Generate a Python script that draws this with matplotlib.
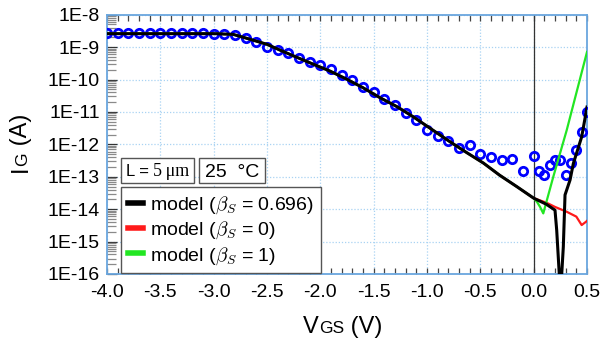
import numpy as np
import matplotlib
matplotlib.use("Agg")
import matplotlib.pyplot as plt
from matplotlib.lines import Line2D
from matplotlib.patches import Rectangle
from matplotlib.ticker import FixedLocator, MultipleLocator, FuncFormatter, NullFormatter, LogLocator

plt.rcParams['font.family'] = ['Liberation Sans', 'DejaVu Sans']
plt.rcParams['mathtext.fontset'] = 'cm'

# ---------------- data ----------------
meas_vgs = [-4.0, -3.9, -3.8, -3.7, -3.6, -3.5, -3.4, -3.3, -3.2, -3.1,
            -3.0, -2.9, -2.8, -2.7, -2.6, -2.5, -2.4, -2.3, -2.2, -2.1,
            -2.0, -1.9, -1.8, -1.7, -1.6, -1.5, -1.4, -1.3, -1.2, -1.1,
            -1.0, -0.9, -0.8, -0.7, -0.6, -0.5, -0.4, -0.3, -0.2, -0.1,
            0.0, 0.05, 0.1, 0.15, 0.2, 0.25, 0.3, 0.35, 0.4, 0.45, 0.5]
meas_log_ig = [-8.57, -8.57, -8.57, -8.57, -8.57, -8.57, -8.57, -8.57, -8.57, -8.57,
               -8.59, -8.61, -8.64, -8.71, -8.85, -8.99, -9.09, -9.19, -9.34, -9.47,
               -9.56, -9.69, -9.86, -10.02, -10.22, -10.38, -10.60, -10.79, -11.02, -11.26,
               -11.56, -11.74, -11.91, -12.11, -12.02, -12.30, -12.38, -12.49, -12.46, -12.83,
               -12.35, -12.82, -12.95, -12.64, -12.47, -12.49, -12.94, -12.58, -12.16, -11.62, -11.01]

# model curves: common part (all three coincide for VGS <= 0)
model_common_v = [-4.0, -3.0, -2.82, -2.69, -2.5, -2.38, -2.22, -2.07, -1.91, -1.75, -1.6,
                  -1.44, -1.28, -1.13, -0.97, -0.78, -0.63, -0.47, -0.32, -0.16, 0.0]
model_common_log = [-8.586, -8.586, -8.605, -8.728, -8.914, -9.09, -9.315, -9.522, -9.738, -9.994, -10.253,
                    -10.562, -10.84, -11.148, -11.506, -11.93, -12.25, -12.58, -12.95, -13.3, -13.66]

# tails for VGS > 0
black_tail_v = [0.12, 0.2, 0.216, 0.24, 0.252, 0.263, 0.278, 0.294, 0.341, 0.372, 0.45, 0.49, 0.5]
black_tail_log = [-13.85, -14.03, -14.65, -16.0, -16.6, -16.0, -15.16, -13.56, -13.1, -12.59, -11.77, -11.04, -10.85]
red_tail_v = [0.12, 0.2, 0.31, 0.40, 0.45, 0.49, 0.5]
red_tail_log = [-13.8, -13.93, -14.08, -14.23, -14.49, -14.39, -14.36]
green_tail_v = [0.03, 0.06, 0.09, 0.184, 0.31, 0.5]
green_tail_log = [-13.77, -13.93, -14.13, -13.0, -11.56, -9.15]

legend_labels = [r"model ($\beta_S$ = 0.696)", r"model ($\beta_S$ = 0)", r"model ($\beta_S$ = 1)"]
x_ticks = [-4.0, -3.5, -3.0, -2.5, -2.0, -1.5, -1.0, -0.5, 0.0, 0.5]
y_decades = [-16, -15, -14, -13, -12, -11, -10, -9, -8]

# ---------------- figure ----------------
W, H = 602, 350
fig = plt.figure(figsize=(W / 100, H / 100), dpi=100)
ax = fig.add_axes([107 / W, 1 - 274 / H, 480 / W, (274 - 14.7) / H])

def fx(x):
    return x / W

def fy(y):
    return 1 - y / H

blue_spine = '#6aa6de'
grid_col = '#a9d3f3'

ax.set_yscale('log')
ax.set_xlim(-4.0, 0.5)
ax.set_ylim(1e-16, 1e-8)

ax.plot(meas_vgs, 10 ** np.array(meas_log_ig), 'o', ms=6.0, mfc='none', mec='#0000ff',
        mew=2.0, zorder=3)

red_v = model_common_v + red_tail_v
red_l = model_common_log + red_tail_log
green_v = model_common_v + green_tail_v
green_l = model_common_log + green_tail_log
black_v = model_common_v + black_tail_v
black_l = model_common_log + black_tail_log
ax.plot(red_v, 10 ** np.array(red_l), color='#ff1a1a', lw=1.6, zorder=4)
ax.plot(green_v, 10 ** np.array(green_l), color='#22e622', lw=1.6, zorder=4)
ax.plot(black_v, 10 ** np.array(black_l), color='black', lw=2.2, zorder=5)

ax.axvline(0.0, color='#333333', lw=0.9, zorder=2)

# ticks
ax.xaxis.set_major_locator(FixedLocator(x_ticks))
ax.xaxis.set_minor_locator(MultipleLocator(0.1))
ax.xaxis.set_major_formatter(FuncFormatter(lambda v, p: f"{v + 0.0:.1f}"))
ax.yaxis.set_major_locator(FixedLocator([10.0 ** d for d in y_decades]))
ax.yaxis.set_minor_locator(LogLocator(base=10, subs=np.arange(2, 10), numticks=20))
ax.yaxis.set_major_formatter(FuncFormatter(lambda v, p: f"1E{int(round(np.log10(v)))}"))
ax.yaxis.set_minor_formatter(NullFormatter())

ax.tick_params(axis='x', which='both', direction='in', top=True, bottom=True,
               length=4.3, width=0.9, color='#444444', labelsize=14, pad=7)
ax.tick_params(axis='y', which='major', direction='in', left=True, right=False,
               length=7, width=0.9, color='#333333', labelsize=14, pad=5)
ax.tick_params(axis='y', which='minor', direction='in', left=True, right=False,
               length=6.5, width=0.9, color='#8a8a8a')

ax.grid(True, which='major', color=grid_col, lw=0.9, ls=(0, (1, 1.5)), zorder=1)

for s in ax.spines.values():
    s.set_color(blue_spine)
    s.set_linewidth(1.3)

# boxes with text
def box(x0, y0, x1, y1):
    r = Rectangle((fx(x0), fy(y1)), fx(x1) - fx(x0), fy(y0) - fy(y1), transform=fig.transFigure,
                  facecolor='white', edgecolor='#555555', lw=1.0, zorder=10)
    fig.patches.append(r)

box(120.7, 158.3, 194.3, 183.3)
box(198.7, 158.3, 265.0, 183.3)

renderer = fig.canvas.get_renderer()

def multipart(parts, cx, cy, rotation=0, zorder=11):
    texts, widths = [], []
    for s, size, fam in parts:
        t = fig.text(0, 0, s, fontsize=size, ha='left', va='baseline', rotation=rotation,
                     rotation_mode='anchor', family=fam, zorder=zorder)
        bb = t.get_window_extent(renderer)
        widths.append(bb.width if rotation == 0 else bb.height)
        texts.append(t)
    total = sum(widths)
    pos = -total / 2
    for t, w in zip(texts, widths):
        if rotation == 0:
            t.set_position((fx(cx + pos), fy(cy)))
        else:
            t.set_position((fx(cx), fy(cy - pos)))
        pos += w

sans = ['Liberation Sans', 'DejaVu Sans']
serif = ['Liberation Serif', 'DejaVu Serif']
multipart([("L = ", 12, sans), ("5\u2009\u03bcm", 13, serif)], 157.5, 176)
multipart([("25  \u00b0C", 14, sans)], 231.8, 176.5)

handles = [Line2D([], [], color='black', lw=4),
           Line2D([], [], color='#ff1a1a', lw=4),
           Line2D([], [], color='#22e622', lw=4)]
leg = ax.legend(handles, legend_labels, loc='upper left', bbox_to_anchor=(fx(120.7), fy(187.3)),
                bbox_transform=fig.transFigure, borderaxespad=0, fontsize=14, frameon=True,
                fancybox=False, framealpha=1, edgecolor='#555555', handlelength=0.8,
                handletextpad=0.35, labelspacing=0.2, borderpad=0.35)
leg.get_frame().set_linewidth(1.0)
leg.set_zorder(12)

# multi-size axis labels
multipart([("V", 17, sans), ("GS", 12.5, sans), (" (V)", 17, sans)], 343, 333)
multipart([("I", 17, sans), ("G", 12.5, sans), (" (A)", 17, sans)], 27, 143, rotation=90)

fig.savefig('out.png', dpi=100)
